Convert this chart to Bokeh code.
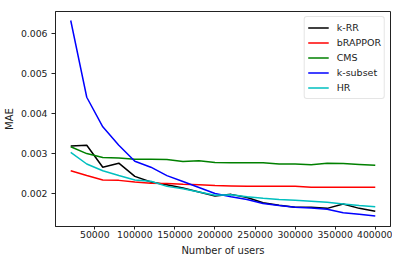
from bokeh.plotting import figure
from bokeh.models import FixedTicker, PrintfTickFormatter, Range1d, Legend, LegendItem
from bokeh.embed import file_html
from bokeh.resources import INLINE

users = [20000 * i for i in range(1, 21)]
krr = [0.00319, 0.00321, 0.00266, 0.00276, 0.00243, 0.00229, 0.00222, 0.00214, 0.00204, 0.00194,
       0.00198, 0.00190, 0.00177, 0.00171, 0.00166, 0.00166, 0.00163, 0.00174, 0.00163, 0.00156]
brappor = [0.00257, 0.00245, 0.00234, 0.00233, 0.00229, 0.00226, 0.00225, 0.00223, 0.00222, 0.00220,
           0.00219, 0.00218, 0.00218, 0.00218, 0.00218, 0.00216, 0.00216, 0.00216, 0.00216, 0.00216]
cms = [0.00317, 0.00300, 0.00290, 0.00289, 0.00286, 0.00286, 0.00285, 0.00280, 0.00282, 0.00278,
       0.00277, 0.00277, 0.00277, 0.00274, 0.00274, 0.00272, 0.00276, 0.00275, 0.00273, 0.00271]
ksubset = [0.00633, 0.00441, 0.00367, 0.00321, 0.00281, 0.00266, 0.00245, 0.00230, 0.00215, 0.00200,
           0.00192, 0.00185, 0.00175, 0.00170, 0.00166, 0.00164, 0.00161, 0.00152, 0.00148, 0.00144]
hr = [0.00303, 0.00274, 0.00257, 0.00245, 0.00234, 0.00231, 0.00218, 0.00212, 0.00204, 0.00196,
      0.00197, 0.00192, 0.00188, 0.00185, 0.00183, 0.00181, 0.00178, 0.00174, 0.00170, 0.00167]

x_ticks = [50000, 100000, 150000, 200000, 250000, 300000, 350000, 400000]
y_ticks = [0.002, 0.003, 0.004, 0.005, 0.006]

series = [("k-RR", krr, "#000000"), ("bRAPPOR", brappor, "#ff0000"), ("CMS", cms, "#008000"),
          ("k-subset", ksubset, "#0000ff"), ("HR", hr, "#00bfbf")]

p = figure(width=392, height=258, output_backend="svg", toolbar_location=None,
           x_range=Range1d(1000, 419000), y_range=Range1d(0.001176, 0.006555),
           min_border_left=50, min_border_right=2, min_border_top=11, min_border_bottom=30)

items = []
for name, vals, col in series:
    r = p.line(users, vals, line_color=col, line_width=1.5)
    items.append(LegendItem(label=name, renderers=[r]))

font = "DejaVu Sans"
fs = "9.3px"
p.xgrid.visible = False
p.ygrid.visible = False
p.outline_line_color = "#222222"
p.outline_line_width = 1
p.background_fill_color = "white"

p.xaxis.ticker = FixedTicker(ticks=x_ticks)
p.yaxis.ticker = FixedTicker(ticks=y_ticks)
p.xaxis.formatter = PrintfTickFormatter(format="%d")
p.yaxis.formatter = PrintfTickFormatter(format="%.3f")
for ax in (p.xaxis[0], p.yaxis[0]):
    ax.major_label_text_font = font
    ax.major_label_text_font_size = fs
    ax.major_label_text_color = "#222222"
    ax.axis_label_text_font = font
    ax.axis_label_text_font_size = "10px"
    ax.axis_label_text_font_style = "normal"
    ax.axis_label_text_color = "#222222"
    ax.major_tick_in = 0
    ax.minor_tick_out = 0
    ax.minor_tick_in = 0
    ax.axis_line_color = "#222222"
    ax.major_tick_line_color = "#222222"
p.xaxis.major_tick_out = 3
p.xaxis.major_label_standoff = 1
p.xaxis.axis_label_standoff = 4
p.yaxis.major_tick_out = 4
p.yaxis.major_label_standoff = 4
p.yaxis.axis_label_standoff = 3
p.xaxis.axis_label = "Number of users"
p.yaxis.axis_label = "MAE"

legend = Legend(items=items, location="top_right")
legend.label_text_font = font
legend.label_text_font_size = "9.5px"
legend.label_text_color = "#222222"
legend.border_line_color = "#cccccc"
legend.border_line_width = 1
legend.border_radius = 3
legend.glyph_width = 21
legend.glyph_height = 15
legend.label_height = 15
legend.spacing = 0
legend.padding = 3
legend.margin = 5
legend.label_standoff = 8
p.add_layout(legend)

open("out.html", "w").write(file_html(p, INLINE))
